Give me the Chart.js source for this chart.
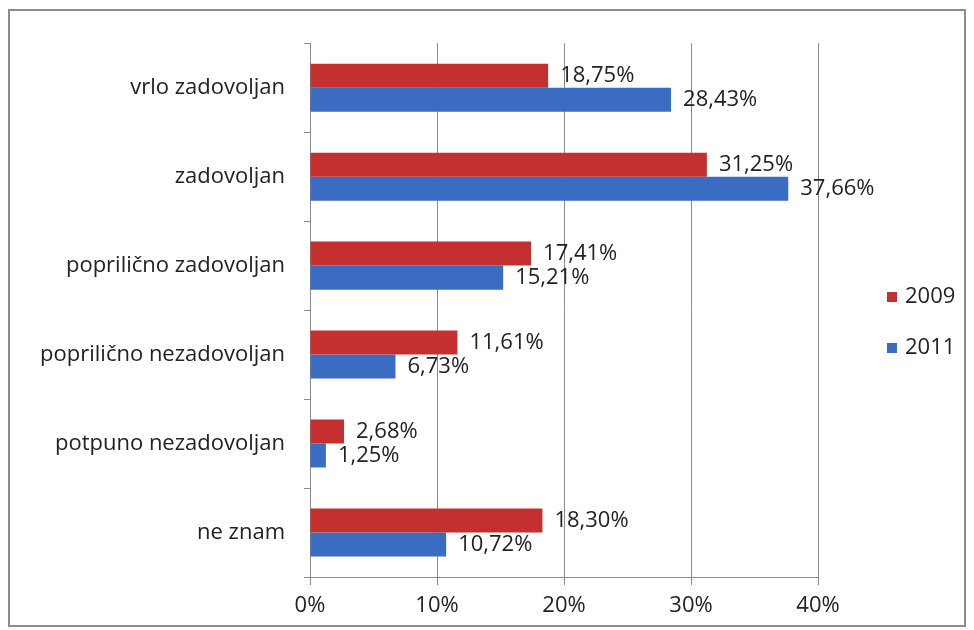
<!DOCTYPE html>
<html>
<head>
<meta charset="utf-8">
<script src="https://cdn.jsdelivr.net/npm/chart.js@4"></script>
<style>
  body { margin: 0; background: #fff; }
  #frame {
    position: absolute; left: 8px; top: 9px; width: 958px; height: 618px;
    border: 2px solid #8c8c8c; box-sizing: border-box; background: #fff;
  }
  #wrap { position: relative; width: 954px; height: 614px; }
</style>
</head>
<body>
<div id="frame"><div id="wrap"><canvas id="chart"></canvas></div></div>
<script>
// Categories and series
const categories = [
  'vrlo zadovoljan',
  'zadovoljan',
  'poprilično zadovoljan',
  'poprilično nezadovoljan',
  'potpuno nezadovoljan',
  'ne znam'
];
const values2009 = [18.75, 31.25, 17.41, 11.61, 2.68, 18.30];
const values2011 = [28.43, 37.66, 15.21, 6.73, 1.25, 10.72];
const xTicks = [0, 10, 20, 30, 40];

const FONT = '"Open Sans", sans-serif';
const RED = '#c4302f';
const BLUE = '#3a6cc2';

// Value labels to the right of each bar
const valueLabels = {
  id: 'valueLabels',
  afterDatasetsDraw(chart) {
    const ctx = chart.ctx;
    ctx.save();
    ctx.font = '22px ' + FONT;
    ctx.fillStyle = '#222';
    ctx.textBaseline = 'middle';
    ctx.textAlign = 'left';
    chart.data.datasets.forEach((ds, i) => {
      chart.getDatasetMeta(i).data.forEach((bar, j) => {
        const txt = ds.data[j].toFixed(2).replace('.', ',') + '%';
        ctx.fillText(txt, bar.x + 12, bar.y);
      });
    });
    ctx.restore();
  }
};

// Legend on the right side
const sideLegend = {
  id: 'sideLegend',
  afterDraw(chart) {
    const ctx = chart.ctx;
    ctx.save();
    ctx.font = '22px ' + FONT;
    ctx.textBaseline = 'middle';
    chart.data.datasets.forEach((ds, i) => {
      const y = 286 + i * 51;
      ctx.fillStyle = ds.backgroundColor;
      ctx.fillRect(877, y - 5, 10, 10);
      ctx.fillStyle = '#222';
      ctx.fillText(ds.label, 895, y);
    });
    ctx.restore();
  }
};

new Chart(document.getElementById('chart'), {
  type: 'bar',
  data: {
    labels: categories,
    datasets: [
      { label: '2009', data: values2009, backgroundColor: RED },
      { label: '2011', data: values2011, backgroundColor: BLUE }
    ]
  },
  options: {
    indexAxis: 'y',
    responsive: true,
    maintainAspectRatio: false,
    animation: false,
    categoryPercentage: 0.54,
    barPercentage: 1.0,
    layout: { padding: { top: 28, right: 146, left: 0, bottom: 0 } },
    plugins: {
      legend: { display: false },
      tooltip: { enabled: false }
    },
    scales: {
      x: {
        min: 0,
        max: 40,
        afterBuildTicks(scale) { scale.ticks = xTicks.map(v => ({ value: v })); },
        afterFit(scale) { scale.height = 48; },
        grid: { color: '#8a8a8a', lineWidth: 1, tickLength: 8 },
        border: { color: '#8a8a8a' },
        ticks: {
          padding: 8,
          color: '#222',
          font: { family: FONT, size: 22 },
          callback: v => v + '%'
        }
      },
      y: {
        afterFit(scale) { scale.width = 300; },
        grid: { offset: true, drawOnChartArea: false, color: '#8a8a8a', tickLength: 6 },
        border: { color: '#8a8a8a' },
        ticks: {
          padding: 19,
          color: '#222',
          font: { family: FONT, size: 22 }
        }
      }
    }
  },
  plugins: [valueLabels, sideLegend]
});
</script>
</body>
</html>
